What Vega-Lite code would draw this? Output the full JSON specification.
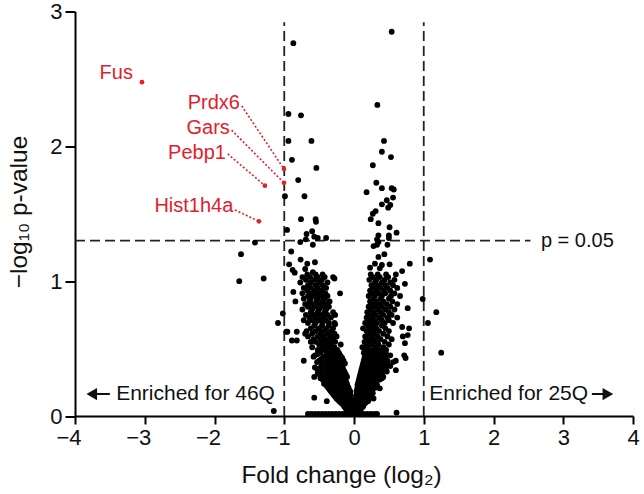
{
  "$schema": "https://vega.github.io/schema/vega-lite/v6.json",
  "width": 558,
  "height": 404.5,
  "autosize": "none",
  "padding": {"left": 75, "top": 11.5, "right": 11, "bottom": 78},
  "background": "white",
  "config": {
    "view": {"stroke": null},
    "font": "Liberation Sans",
    "axis": {
      "grid": false,
      "domainColor": "#000",
      "domainWidth": 2,
      "tickColor": "#000",
      "tickWidth": 2,
      "labelFlush": false,
      "labelFont": "Liberation Sans",
      "labelFontSize": 22,
      "labelColor": "#111",
      "titleFont": "Liberation Sans",
      "titleFontSize": 24.5,
      "titleFontWeight": "normal",
      "titleColor": "#111"
    }
  },
  "encoding": {
    "x": {"field": "x", "type": "quantitative", "scale": {"domain": [-4, 4], "nice": false, "zero": false},
          "axis": {"values": [-4,-3,-2,-1,0,1,2,3,4], "tickSize": 8, "labelPadding": 3, "labelOffset": {"expr": "datum.value < 0 ? -6.5 : 0"}, "title": "Fold change (log₂)", "titleX": 266, "titleY": 66, "titleBaseline": "alphabetic"}},
    "y": {"field": "y", "type": "quantitative", "scale": {"domain": [0, 3], "nice": false, "zero": false},
          "axis": {"values": [0,1,2,3], "tickSize": 10, "labelPadding": 3, "title": "−log₁₀ p-value", "titleX": -49, "titleY": 200, "titleBaseline": "alphabetic"}}
  },
  "datasets": {
    "pts": [
      {"x":0.54,"y":2.85},{"x":-0.87,"y":2.765},{"x":0.335,"y":2.307},{"x":-0.94,"y":2.24},{"x":-0.76,"y":2.23},{"x":-0.94,"y":2.04},{"x":-0.61,"y":2.04},{"x":0.43,"y":2.04},
      {"x":0.40,"y":1.96},{"x":0.53,"y":1.92},{"x":-0.89,"y":1.90},{"x":0.27,"y":1.86},{"x":-0.54,"y":1.84},{"x":-0.80,"y":1.75},{"x":0.32,"y":1.73},{"x":0.40,"y":1.69},{"x":0.54,"y":1.69},{"x":0.57,"y":1.68},{"x":0.18,"y":1.66},{"x":-0.99,"y":1.63},{"x":-0.71,"y":1.63},{"x":0.56,"y":1.62},{"x":0.47,"y":1.60},{"x":0.40,"y":1.57},{"x":0.52,"y":1.565},{"x":0.49,"y":1.545},{"x":0.31,"y":1.52},{"x":0.27,"y":1.50},{"x":0.24,"y":1.46},{"x":-0.76,"y":1.46},{"x":-0.55,"y":1.46},{"x":-0.545,"y":1.44},{"x":0.35,"y":1.43},{"x":0.51,"y":1.40},{"x":-0.96,"y":1.38},{"x":-0.60,"y":1.37},{"x":-0.68,"y":1.35},{"x":0.61,"y":1.36},{"x":0.35,"y":1.34},{"x":0.50,"y":1.34},{"x":-0.57,"y":1.33},{"x":-0.52,"y":1.32},{"x":-0.40,"y":1.32},{"x":-0.69,"y":1.31},{"x":-0.77,"y":1.29},{"x":0.33,"y":1.31},{"x":0.50,"y":1.32},{"x":0.35,"y":1.29},{"x":-0.59,"y":1.27},{"x":0.28,"y":1.26},{"x":0.33,"y":1.27},{"x":0.48,"y":1.27},{"x":-0.90,"y":1.22},{"x":0.435,"y":1.20},{"x":0.35,"y":1.18},{"x":1.09,"y":1.16},{"x":-0.765,"y":1.16},{"x":-0.93,"y":1.125},{"x":0.30,"y":1.13},{"x":-0.67,"y":1.13},{"x":-0.56,"y":1.14},{"x":0.80,"y":1.13},{"x":0.40,"y":1.12},{"x":0.51,"y":1.125},{"x":0.23,"y":1.10},{"x":0.37,"y":1.095},{"x":-0.70,"y":1.09},{"x":-0.88,"y":1.083},{"x":0.69,"y":1.075},{"x":-0.59,"y":1.066},{"x":-0.85,"y":1.063},
      {"x":-1.62,"y":1.20},{"x":-1.42,"y":1.286},{"x":-1.645,"y":1.00},{"x":-1.295,"y":1.02},{"x":-1.09,"y":0.69},{"x":-1.02,"y":0.76},{"x":-1.15,"y":0.037},{"x":-0.955,"y":0.625},
      {"x":0.985,"y":0.868},{"x":1.18,"y":0.77},{"x":1.06,"y":0.69},{"x":1.25,"y":0.47},{"x":0.73,"y":0.98},{"x":0.77,"y":0.80},{"x":0.79,"y":0.65},{"x":0.77,"y":0.60},{"x":0.73,"y":0.54},{"x":0.72,"y":0.45},{"x":0.69,"y":0.66},{"x":0.70,"y":0.59},
      {"x":0.61,"y":0.025},{"x":-0.57,"y":0.136},{"x":-0.39,"y":0.11},{"x":-0.72,"y":0.41},{"x":-0.28,"y":1.02},{"x":-0.20,"y":0.91},{"x":-0.30,"y":1.03},{"x":-0.27,"y":0.75},{"x":-0.27,"y":0.68},{"x":-0.87,"y":0.92},{"x":-0.84,"y":0.85},{"x":-0.97,"y":0.625},{"x":-0.82,"y":0.625},{"x":-0.70,"y":0.61},{"x":-0.89,"y":0.56},{"x":-0.82,"y":0.56},{"x":-0.57,"y":0.29},{"x":0.60,"y":0.41},{"x":0.74,"y":0.43},{"x":0.60,"y":0.34},{"x":0.37,"y":0.205},{"x":0.28,"y":0.13},
      {"x":-0.66,"y":0.015},{"x":-0.61,"y":0.015},{"x":-0.56,"y":0.015},{"x":-0.51,"y":0.015},{"x":-0.46,"y":0.015},{"x":-0.41,"y":0.015},{"x":-0.36,"y":0.015},{"x":-0.31,"y":0.015},{"x":-0.26,"y":0.015},{"x":-0.21,"y":0.015},{"x":-0.16,"y":0.015},{"x":-0.11,"y":0.015},{"x":-0.06,"y":0.015},{"x":-0.01,"y":0.015},{"x":0.04,"y":0.015},{"x":0.09,"y":0.015},{"x":0.14,"y":0.015},{"x":0.19,"y":0.015},{"x":0.24,"y":0.015},{"x":0.29,"y":0.015},{"x":0.33,"y":0.015},
      {"x":-0.09,"y":0.03},{"x":-0.05,"y":0.03},{"x":-0.02,"y":0.03},{"x":0.01,"y":0.03},{"x":0.04,"y":0.03},{"x":0.08,"y":0.03},
      {"x":-0.11,"y":0.05},{"x":-0.07,"y":0.05},{"x":-0.03,"y":0.05},{"x":0.02,"y":0.05},{"x":0.05,"y":0.05},{"x":0.09,"y":0.05},
      {"x":-0.14,"y":0.07},{"x":-0.09,"y":0.07},{"x":-0.05,"y":0.07},{"x":-0.02,"y":0.07},{"x":0.02,"y":0.07},{"x":0.06,"y":0.07},{"x":0.10,"y":0.07},{"x":0.13,"y":0.07},
      {"x":-0.17,"y":0.09},{"x":-0.12,"y":0.09},{"x":-0.07,"y":0.09},{"x":-0.03,"y":0.09},{"x":0.03,"y":0.09},{"x":0.07,"y":0.09},{"x":0.11,"y":0.09},{"x":0.15,"y":0.09},
      {"x":-0.21,"y":0.11},{"x":-0.15,"y":0.11},{"x":-0.10,"y":0.11},{"x":-0.05,"y":0.11},{"x":0.02,"y":0.11},{"x":0.06,"y":0.11},{"x":0.10,"y":0.11},{"x":0.15,"y":0.11},{"x":0.20,"y":0.11},
      {"x":-0.25,"y":0.13},{"x":-0.18,"y":0.13},{"x":-0.12,"y":0.13},{"x":-0.06,"y":0.13},{"x":0.03,"y":0.13},{"x":0.08,"y":0.13},{"x":0.13,"y":0.13},{"x":0.18,"y":0.13},
      {"x":-0.28,"y":0.15},{"x":-0.21,"y":0.15},{"x":-0.15,"y":0.15},{"x":-0.09,"y":0.15},{"x":-0.05,"y":0.15},{"x":0.03,"y":0.15},{"x":0.07,"y":0.15},{"x":0.12,"y":0.15},{"x":0.17,"y":0.15},{"x":0.23,"y":0.15},
      {"x":-0.31,"y":0.17},{"x":-0.24,"y":0.17},{"x":-0.17,"y":0.17},{"x":-0.11,"y":0.17},{"x":-0.06,"y":0.17},{"x":0.04,"y":0.17},{"x":0.09,"y":0.17},{"x":0.14,"y":0.17},{"x":0.20,"y":0.17},{"x":0.27,"y":0.17},
      {"x":-0.34,"y":0.19},{"x":-0.27,"y":0.19},{"x":-0.20,"y":0.19},{"x":-0.13,"y":0.19},{"x":-0.07,"y":0.19},{"x":0.04,"y":0.19},{"x":0.10,"y":0.19},{"x":0.16,"y":0.19},{"x":0.22,"y":0.19},
      {"x":-0.37,"y":0.21},{"x":-0.29,"y":0.21},{"x":-0.22,"y":0.21},{"x":-0.15,"y":0.21},{"x":-0.08,"y":0.21},{"x":0.05,"y":0.21},{"x":0.11,"y":0.21},{"x":0.17,"y":0.21},{"x":0.24,"y":0.21},{"x":0.31,"y":0.21},
      {"x":-0.40,"y":0.23},{"x":-0.32,"y":0.23},{"x":-0.24,"y":0.23},{"x":-0.17,"y":0.23},{"x":-0.10,"y":0.23},{"x":0.05,"y":0.23},{"x":0.12,"y":0.23},{"x":0.19,"y":0.23},{"x":0.26,"y":0.23},{"x":0.33,"y":0.23},
      {"x":-0.35,"y":0.25},{"x":-0.27,"y":0.25},{"x":-0.19,"y":0.25},{"x":-0.11,"y":0.25},{"x":0.06,"y":0.25},{"x":0.13,"y":0.25},{"x":0.20,"y":0.25},{"x":0.28,"y":0.25},
      {"x":-0.45,"y":0.27},{"x":-0.38,"y":0.27},{"x":-0.30,"y":0.27},{"x":-0.22,"y":0.27},{"x":-0.14,"y":0.27},{"x":0.07,"y":0.27},{"x":0.14,"y":0.27},{"x":0.22,"y":0.27},{"x":0.30,"y":0.27},{"x":0.37,"y":0.27},
      {"x":-0.41,"y":0.29},{"x":-0.33,"y":0.29},{"x":-0.25,"y":0.29},{"x":-0.16,"y":0.29},{"x":-0.10,"y":0.29},{"x":0.08,"y":0.29},{"x":0.15,"y":0.29},{"x":0.24,"y":0.29},{"x":0.32,"y":0.29},{"x":0.42,"y":0.29},
      {"x":-0.50,"y":0.31},{"x":-0.36,"y":0.31},{"x":-0.28,"y":0.31},{"x":-0.19,"y":0.31},{"x":-0.12,"y":0.31},{"x":0.09,"y":0.31},{"x":0.17,"y":0.31},{"x":0.25,"y":0.31},{"x":0.34,"y":0.31},
      {"x":-0.44,"y":0.33},{"x":-0.31,"y":0.33},{"x":-0.22,"y":0.33},{"x":-0.14,"y":0.33},{"x":0.10,"y":0.33},{"x":0.18,"y":0.33},{"x":0.27,"y":0.33},{"x":0.36,"y":0.33},{"x":0.47,"y":0.33},
      {"x":-0.53,"y":0.35},{"x":-0.39,"y":0.35},{"x":-0.33,"y":0.35},{"x":-0.25,"y":0.35},{"x":-0.16,"y":0.35},{"x":0.11,"y":0.35},{"x":0.19,"y":0.35},{"x":0.28,"y":0.35},{"x":0.38,"y":0.35},
      {"x":-0.47,"y":0.37},{"x":-0.36,"y":0.37},{"x":-0.27,"y":0.37},{"x":-0.18,"y":0.37},{"x":0.12,"y":0.37},{"x":0.20,"y":0.37},{"x":0.30,"y":0.37},{"x":0.40,"y":0.37},{"x":0.52,"y":0.37},
      {"x":-0.42,"y":0.39},{"x":-0.30,"y":0.39},{"x":-0.21,"y":0.39},{"x":-0.13,"y":0.39},{"x":0.13,"y":0.39},{"x":0.22,"y":0.39},{"x":0.32,"y":0.39},{"x":0.44,"y":0.39},
      {"x":-0.50,"y":0.41},{"x":-0.38,"y":0.41},{"x":-0.32,"y":0.41},{"x":-0.23,"y":0.41},{"x":-0.15,"y":0.41},{"x":0.14,"y":0.41},{"x":0.23,"y":0.41},{"x":0.33,"y":0.41},{"x":0.48,"y":0.41},
      {"x":-0.45,"y":0.43},{"x":-0.35,"y":0.43},{"x":-0.26,"y":0.43},{"x":-0.17,"y":0.43},{"x":0.15,"y":0.43},{"x":0.25,"y":0.43},{"x":0.35,"y":0.43},{"x":0.42,"y":0.43},
      {"x":-0.56,"y":0.45},{"x":-0.40,"y":0.45},{"x":-0.30,"y":0.45},{"x":-0.20,"y":0.45},{"x":0.16,"y":0.45},{"x":0.26,"y":0.45},{"x":0.37,"y":0.45},{"x":0.52,"y":0.45},
      {"x":-0.48,"y":0.47},{"x":-0.36,"y":0.47},{"x":-0.27,"y":0.47},{"x":-0.22,"y":0.47},{"x":0.14,"y":0.47},{"x":0.22,"y":0.47},{"x":0.30,"y":0.47},{"x":0.40,"y":0.47},
      {"x":-0.52,"y":0.49},{"x":-0.43,"y":0.49},{"x":-0.33,"y":0.49},{"x":-0.24,"y":0.49},{"x":0.17,"y":0.49},{"x":0.27,"y":0.49},{"x":0.36,"y":0.49},{"x":0.46,"y":0.49},
      {"x":-0.60,"y":0.51},{"x":-0.46,"y":0.51},{"x":-0.38,"y":0.51},{"x":-0.28,"y":0.51},{"x":0.12,"y":0.51},{"x":0.20,"y":0.51},{"x":0.30,"y":0.51},{"x":0.42,"y":0.51},
      {"x":-0.50,"y":0.53},{"x":-0.42,"y":0.53},{"x":-0.33,"y":0.53},{"x":-0.19,"y":0.53},{"x":0.18,"y":0.53},{"x":0.26,"y":0.53},{"x":0.35,"y":0.53},{"x":0.50,"y":0.53},
      {"x":-0.62,"y":0.55},{"x":-0.55,"y":0.55},{"x":-0.45,"y":0.55},{"x":-0.36,"y":0.55},{"x":-0.27,"y":0.55},{"x":0.15,"y":0.55},{"x":0.23,"y":0.55},{"x":0.32,"y":0.55},{"x":0.44,"y":0.55},
      {"x":-0.58,"y":0.57},{"x":-0.48,"y":0.57},{"x":-0.40,"y":0.57},{"x":-0.30,"y":0.57},{"x":0.19,"y":0.57},{"x":0.28,"y":0.57},{"x":0.38,"y":0.57},{"x":0.54,"y":0.57},
      {"x":-0.66,"y":0.59},{"x":-0.52,"y":0.59},{"x":-0.44,"y":0.59},{"x":-0.34,"y":0.59},{"x":-0.25,"y":0.59},{"x":0.16,"y":0.59},{"x":0.25,"y":0.59},{"x":0.34,"y":0.59},{"x":0.48,"y":0.59},
      {"x":-0.60,"y":0.61},{"x":-0.48,"y":0.61},{"x":-0.38,"y":0.61},{"x":-0.28,"y":0.61},{"x":0.22,"y":0.61},{"x":0.30,"y":0.61},{"x":0.42,"y":0.61},
      {"x":-0.68,"y":0.63},{"x":-0.55,"y":0.63},{"x":-0.44,"y":0.63},{"x":-0.33,"y":0.63},{"x":0.18,"y":0.63},{"x":0.26,"y":0.63},{"x":0.36,"y":0.63},{"x":0.50,"y":0.63},
      {"x":-0.62,"y":0.65},{"x":-0.50,"y":0.65},{"x":-0.40,"y":0.65},{"x":-0.30,"y":0.65},{"x":0.13,"y":0.65},{"x":0.23,"y":0.65},{"x":0.32,"y":0.65},{"x":0.45,"y":0.65},
      {"x":-0.57,"y":0.67},{"x":-0.46,"y":0.67},{"x":-0.36,"y":0.67},{"x":0.20,"y":0.67},{"x":0.28,"y":0.67},{"x":0.40,"y":0.67},
      {"x":-0.66,"y":0.69},{"x":-0.55,"y":0.69},{"x":-0.45,"y":0.69},{"x":-0.36,"y":0.69},{"x":-0.28,"y":0.69},{"x":0.16,"y":0.69},{"x":0.24,"y":0.69},{"x":0.33,"y":0.69},{"x":0.44,"y":0.69},{"x":0.56,"y":0.69},
      {"x":-0.72,"y":0.71},{"x":-0.60,"y":0.71},{"x":-0.50,"y":0.71},{"x":-0.40,"y":0.71},{"x":0.20,"y":0.71},{"x":0.29,"y":0.71},{"x":0.40,"y":0.71},{"x":0.50,"y":0.71},
      {"x":-0.64,"y":0.73},{"x":-0.54,"y":0.73},{"x":-0.44,"y":0.73},{"x":-0.33,"y":0.73},{"x":0.18,"y":0.73},{"x":0.26,"y":0.73},{"x":0.36,"y":0.73},{"x":0.48,"y":0.73},{"x":0.62,"y":0.73},
      {"x":-0.69,"y":0.75},{"x":-0.58,"y":0.75},{"x":-0.48,"y":0.75},{"x":-0.38,"y":0.75},{"x":0.22,"y":0.75},{"x":0.31,"y":0.75},{"x":0.42,"y":0.75},{"x":0.54,"y":0.75},
      {"x":-0.62,"y":0.77},{"x":-0.52,"y":0.77},{"x":-0.42,"y":0.77},{"x":-0.30,"y":0.77},{"x":0.19,"y":0.77},{"x":0.28,"y":0.77},{"x":0.38,"y":0.77},{"x":0.50,"y":0.77},
      {"x":-0.74,"y":0.79},{"x":-0.60,"y":0.79},{"x":-0.50,"y":0.79},{"x":-0.40,"y":0.79},{"x":0.24,"y":0.79},{"x":0.34,"y":0.79},{"x":0.45,"y":0.79},{"x":0.58,"y":0.79},
      {"x":-0.66,"y":0.81},{"x":-0.56,"y":0.81},{"x":-0.45,"y":0.81},{"x":-0.36,"y":0.81},{"x":0.21,"y":0.81},{"x":0.30,"y":0.81},{"x":0.40,"y":0.81},{"x":0.52,"y":0.81},
      {"x":-0.70,"y":0.83},{"x":-0.60,"y":0.83},{"x":-0.50,"y":0.83},{"x":-0.41,"y":0.83},{"x":0.26,"y":0.83},{"x":0.36,"y":0.83},{"x":0.47,"y":0.83},{"x":0.62,"y":0.83},
      {"x":-0.64,"y":0.85},{"x":-0.54,"y":0.85},{"x":-0.45,"y":0.85},{"x":-0.35,"y":0.85},{"x":0.23,"y":0.85},{"x":0.32,"y":0.85},{"x":0.42,"y":0.85},{"x":0.55,"y":0.85},
      {"x":-0.72,"y":0.87},{"x":-0.62,"y":0.87},{"x":-0.52,"y":0.87},{"x":-0.42,"y":0.87},{"x":0.28,"y":0.87},{"x":0.38,"y":0.87},{"x":0.50,"y":0.87},
      {"x":-0.66,"y":0.89},{"x":-0.56,"y":0.89},{"x":-0.47,"y":0.89},{"x":-0.38,"y":0.89},{"x":0.21,"y":0.89},{"x":0.30,"y":0.89},{"x":0.40,"y":0.89},{"x":0.53,"y":0.89},{"x":0.66,"y":0.89},
      {"x":-0.74,"y":0.91},{"x":-0.61,"y":0.91},{"x":-0.51,"y":0.91},{"x":-0.41,"y":0.91},{"x":0.26,"y":0.91},{"x":0.35,"y":0.91},{"x":0.45,"y":0.91},{"x":0.58,"y":0.91},
      {"x":-0.67,"y":0.93},{"x":-0.56,"y":0.93},{"x":-0.46,"y":0.93},{"x":0.23,"y":0.93},{"x":0.32,"y":0.93},{"x":0.42,"y":0.93},{"x":0.52,"y":0.93},
      {"x":-0.72,"y":0.95},{"x":-0.62,"y":0.95},{"x":-0.52,"y":0.95},{"x":-0.40,"y":0.95},{"x":0.28,"y":0.95},{"x":0.38,"y":0.95},{"x":0.48,"y":0.95},{"x":0.62,"y":0.95},
      {"x":-0.66,"y":0.97},{"x":-0.55,"y":0.97},{"x":-0.45,"y":0.97},{"x":0.25,"y":0.97},{"x":0.34,"y":0.97},{"x":0.45,"y":0.97},{"x":0.56,"y":0.97},
      {"x":-0.77,"y":0.99},{"x":-0.62,"y":0.99},{"x":-0.50,"y":0.99},{"x":-0.38,"y":0.99},{"x":0.30,"y":0.99},{"x":0.40,"y":0.99},{"x":0.52,"y":0.99},
      {"x":-0.69,"y":1.01},{"x":-0.57,"y":1.01},{"x":-0.46,"y":1.01},{"x":0.22,"y":1.01},{"x":0.32,"y":1.01},{"x":0.44,"y":1.01},{"x":0.58,"y":1.01},
      {"x":-0.74,"y":1.03},{"x":-0.63,"y":1.03},{"x":-0.52,"y":1.03},{"x":-0.42,"y":1.03},{"x":0.27,"y":1.03},{"x":0.37,"y":1.03},{"x":0.49,"y":1.03},
      {"x":-0.67,"y":1.05},{"x":-0.55,"y":1.05},{"x":-0.45,"y":1.05},{"x":0.24,"y":1.05},{"x":0.34,"y":1.05},{"x":0.46,"y":1.05},{"x":0.60,"y":1.05},
      {"x":-0.07,"y":0.04},{"x":-0.035,"y":0.04},{"x":0.0,"y":0.04},{"x":0.03,"y":0.04},{"x":0.065,"y":0.04},
      {"x":-0.12,"y":0.06},{"x":-0.085,"y":0.06},{"x":-0.045,"y":0.06},{"x":-0.01,"y":0.06},{"x":0.035,"y":0.06},{"x":0.075,"y":0.06},{"x":0.11,"y":0.06},
      {"x":-0.145,"y":0.08},{"x":-0.10,"y":0.08},{"x":-0.06,"y":0.08},{"x":-0.01,"y":0.08},{"x":0.05,"y":0.08},{"x":0.09,"y":0.08},{"x":0.13,"y":0.08},
      {"x":-0.19,"y":0.10},{"x":-0.135,"y":0.10},{"x":-0.085,"y":0.10},{"x":-0.04,"y":0.10},{"x":0.045,"y":0.10},{"x":0.085,"y":0.10},{"x":0.13,"y":0.10},{"x":0.17,"y":0.10},
      {"x":-0.23,"y":0.12},{"x":-0.165,"y":0.12},{"x":-0.11,"y":0.12},{"x":-0.075,"y":0.12},{"x":-0.03,"y":0.12},{"x":0.05,"y":0.12},{"x":0.105,"y":0.12},{"x":0.155,"y":0.12},{"x":0.21,"y":0.12},
      {"x":-0.265,"y":0.14},{"x":-0.195,"y":0.14},{"x":-0.135,"y":0.14},{"x":-0.08,"y":0.14},{"x":0.05,"y":0.14},{"x":0.10,"y":0.14},{"x":0.145,"y":0.14},{"x":0.20,"y":0.14},
      {"x":-0.295,"y":0.16},{"x":-0.225,"y":0.16},{"x":-0.16,"y":0.16},{"x":-0.10,"y":0.16},{"x":0.06,"y":0.16},{"x":0.11,"y":0.16},{"x":0.165,"y":0.16},{"x":0.22,"y":0.16},{"x":0.25,"y":0.16},
      {"x":-0.325,"y":0.18},{"x":-0.255,"y":0.18},{"x":-0.185,"y":0.18},{"x":-0.12,"y":0.18},{"x":-0.05,"y":0.18},{"x":0.07,"y":0.18},{"x":0.13,"y":0.18},{"x":0.19,"y":0.18},{"x":0.245,"y":0.18},
      {"x":-0.355,"y":0.20},{"x":-0.28,"y":0.20},{"x":-0.21,"y":0.20},{"x":-0.14,"y":0.20},{"x":-0.075,"y":0.20},{"x":0.08,"y":0.20},{"x":0.14,"y":0.20},{"x":0.205,"y":0.20},{"x":0.27,"y":0.20},
      {"x":-0.385,"y":0.22},{"x":-0.305,"y":0.22},{"x":-0.23,"y":0.22},{"x":-0.16,"y":0.22},{"x":-0.09,"y":0.22},{"x":0.085,"y":0.22},{"x":0.15,"y":0.22},{"x":0.22,"y":0.22},{"x":0.29,"y":0.22},
      {"x":-0.43,"y":0.24},{"x":-0.335,"y":0.24},{"x":-0.255,"y":0.24},{"x":-0.18,"y":0.24},{"x":-0.105,"y":0.24},{"x":0.095,"y":0.24},{"x":0.165,"y":0.24},{"x":0.24,"y":0.24},{"x":0.305,"y":0.24},
      {"x":-0.40,"y":0.26},{"x":-0.32,"y":0.26},{"x":-0.245,"y":0.26},{"x":-0.165,"y":0.26},{"x":-0.125,"y":0.26},{"x":0.10,"y":0.26},{"x":0.175,"y":0.26},{"x":0.25,"y":0.26},{"x":0.325,"y":0.26},
      {"x":-0.48,"y":0.28},{"x":-0.395,"y":0.28},{"x":-0.315,"y":0.28},{"x":-0.235,"y":0.28},{"x":-0.15,"y":0.28},{"x":0.115,"y":0.28},{"x":0.185,"y":0.28},{"x":0.28,"y":0.28},{"x":0.35,"y":0.28},{"x":0.40,"y":0.28},
      {"x":-0.46,"y":0.30},{"x":-0.345,"y":0.30},{"x":-0.265,"y":0.30},{"x":-0.175,"y":0.30},{"x":-0.11,"y":0.30},{"x":0.125,"y":0.30},{"x":0.20,"y":0.30},{"x":0.285,"y":0.30},{"x":0.37,"y":0.30},
      {"x":-0.52,"y":0.32},{"x":-0.375,"y":0.32},{"x":-0.295,"y":0.32},{"x":-0.205,"y":0.32},{"x":-0.13,"y":0.32},{"x":0.135,"y":0.32},{"x":0.22,"y":0.32},{"x":0.31,"y":0.32},{"x":0.41,"y":0.32},
      {"x":-0.48,"y":0.34},{"x":-0.355,"y":0.34},{"x":-0.27,"y":0.34},{"x":-0.185,"y":0.34},{"x":-0.15,"y":0.34},{"x":0.145,"y":0.34},{"x":0.23,"y":0.34},{"x":0.33,"y":0.34},{"x":0.43,"y":0.34},
      {"x":-0.56,"y":0.36},{"x":-0.42,"y":0.36},{"x":-0.31,"y":0.36},{"x":-0.225,"y":0.36},{"x":-0.165,"y":0.36},{"x":0.155,"y":0.36},{"x":0.25,"y":0.36},{"x":0.35,"y":0.36},{"x":0.46,"y":0.36},
      {"x":-0.45,"y":0.38},{"x":-0.335,"y":0.38},{"x":-0.245,"y":0.38},{"x":-0.16,"y":0.38},{"x":0.17,"y":0.38},{"x":0.265,"y":0.38},{"x":0.36,"y":0.38},{"x":0.48,"y":0.38},
      {"x":-0.53,"y":0.40},{"x":-0.40,"y":0.40},{"x":-0.275,"y":0.40},{"x":-0.19,"y":0.40},{"x":0.185,"y":0.40},{"x":0.28,"y":0.40},{"x":0.39,"y":0.40},{"x":0.56,"y":0.40},
      {"x":-0.475,"y":0.42},{"x":-0.365,"y":0.42},{"x":-0.285,"y":0.42},{"x":-0.205,"y":0.42},{"x":0.195,"y":0.42},{"x":0.30,"y":0.42},{"x":0.40,"y":0.42},
      {"x":-0.58,"y":0.44},{"x":-0.425,"y":0.44},{"x":-0.33,"y":0.44},{"x":-0.245,"y":0.44},{"x":-0.185,"y":0.44},{"x":0.21,"y":0.44},{"x":0.31,"y":0.44},{"x":0.45,"y":0.44},
      {"x":-0.52,"y":0.46},{"x":-0.38,"y":0.46},{"x":-0.285,"y":0.46},{"x":-0.21,"y":0.46},{"x":0.19,"y":0.46},{"x":0.24,"y":0.46},{"x":0.335,"y":0.46},{"x":0.46,"y":0.46},
      {"x":-0.50,"y":0.48},{"x":-0.395,"y":0.48},{"x":-0.31,"y":0.48},{"x":-0.235,"y":0.48},{"x":0.155,"y":0.48},{"x":0.245,"y":0.48},{"x":0.33,"y":0.48},{"x":0.43,"y":0.48}
    ],
    "hits": [
      {"gene":"Fus","x":-3.04,"y":2.476},
      {"gene":"Prdx6","x":-1.004,"y":1.832},
      {"gene":"Gars","x":-1.004,"y":1.729},
      {"gene":"Pebp1","x":-1.277,"y":1.708},
      {"gene":"Hist1h4a","x":-1.363,"y":1.444}
    ],
    "hitLabels": [
      {"gene":"Fus","x":-3.17,"y":2.542},
      {"gene":"Prdx6","x":-1.636,"y":2.32},
      {"gene":"Gars","x":-1.78,"y":2.134},
      {"gene":"Pebp1","x":-1.836,"y":1.953},
      {"gene":"Hist1h4a","x":-1.73,"y":1.556}
    ],
    "leaders": [
      {"gene":"Prdx6","x":-1.61,"y":2.30,"x2":-1.004,"y2":1.832},
      {"gene":"Gars","x":-1.755,"y":2.12,"x2":-1.004,"y2":1.729},
      {"gene":"Pebp1","x":-1.81,"y":1.944,"x2":-1.277,"y2":1.708},
      {"gene":"Hist1h4a","x":-1.707,"y":1.528,"x2":-1.363,"y2":1.444}
    ],
    "guides": [
      {"x":-1,"x2":-1,"y":0,"y2":2.92},
      {"x":1,"x2":1,"y":0,"y2":2.92},
      {"x":-4,"x2":2.53,"y":1.301,"y2":1.301}
    ],
    "arrowLines": [
      {"x":-3.72,"x2":-3.50,"y":0.163},
      {"x":3.41,"x2":3.57,"y":0.163}
    ],
    "arrowHeads": [
      {"x":-3.76,"y":0.163,"dir":"left"},
      {"x":3.64,"y":0.163,"dir":"right"}
    ]
  },
  "layer": [
    {
      "data": {"name": "guides"},
      "mark": {"type": "rule", "color": "#222", "strokeWidth": 1.8, "strokeDash": [10, 5]},
      "encoding": {"x2": {"field": "x2"}, "y2": {"field": "y2"}}
    },
    {
      "data": {"name": "pts"},
      "mark": {"type": "circle", "color": "#000", "opacity": 1, "size": 34},
      "encoding": {}
    },
    {
      "data": {"name": "leaders"},
      "mark": {"type": "rule", "color": "#e3202a", "strokeWidth": 1.6, "strokeDash": [2, 2]},
      "encoding": {"x2": {"field": "x2"}, "y2": {"field": "y2"}}
    },
    {
      "data": {"name": "hits"},
      "mark": {"type": "circle", "color": "#e3202a", "opacity": 1, "size": 22},
      "encoding": {}
    },
    {
      "data": {"name": "hitLabels"},
      "mark": {"type": "text", "color": "#e3202a", "font": "Liberation Sans", "fontSize": 20, "align": "right", "baseline": "middle"},
      "encoding": {"text": {"field": "gene"}}
    },
    {
      "data": {"values": [{"x": 2.68, "y": 1.301, "t": "p = 0.05"}]},
      "mark": {"type": "text", "color": "#111", "font": "Liberation Sans", "fontSize": 20, "align": "left", "baseline": "middle"},
      "encoding": {"text": {"field": "t"}}
    },
    {
      "data": {"values": [{"x": -3.41, "y": 0.163, "t": "Enriched for 46Q"}, {"x": 1.08, "y": 0.163, "t": "Enriched for 25Q"}]},
      "mark": {"type": "text", "color": "#111", "font": "Liberation Sans", "fontSize": 21, "align": "left", "baseline": "middle"},
      "encoding": {"text": {"field": "t"}}
    },
    {
      "data": {"name": "arrowLines"},
      "mark": {"type": "rule", "color": "#111", "strokeWidth": 2},
      "encoding": {"x2": {"field": "x2"}}
    },
    {
      "data": {"name": "arrowHeads"},
      "mark": {"type": "point", "filled": true, "color": "#111", "opacity": 1, "size": 150},
      "encoding": {
        "shape": {"field": "dir", "type": "nominal", "scale": {"domain": ["left", "right"], "range": ["triangle-left", "triangle-right"]}, "legend": null}
      }
    }
  ]
}
